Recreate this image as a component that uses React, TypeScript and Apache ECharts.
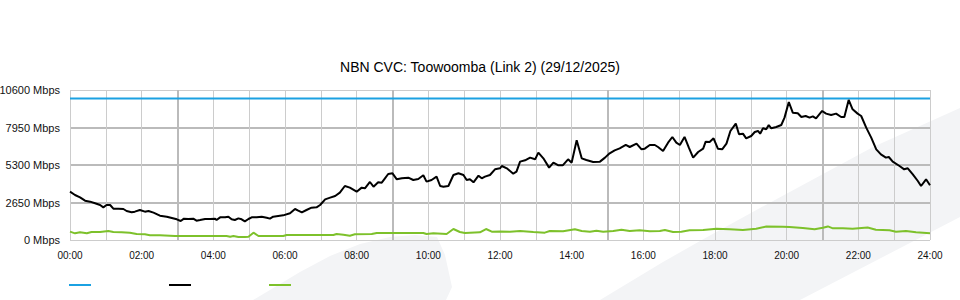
import React, { useEffect, useRef } from "react";
import * as echarts from "echarts";

const TITLE = "NBN CVC: Toowoomba (Link 2) (29/12/2025)";
const Y_TICKS = [0, 2650, 5300, 7950, 10600];

const capacityTimes = [0, 24];
const capacityValues = [10000, 10000];

const trafficTimes = [
  0.0, 0.14, 0.28, 0.42, 0.56, 0.7, 0.84, 0.93, 1.02, 1.12, 1.21, 1.35, 1.49, 1.58, 1.72, 1.81, 1.95, 2.09, 2.19, 2.33,
  2.51, 2.7, 2.84, 2.98, 3.09, 3.18, 3.3, 3.44, 3.53, 3.63, 3.77, 3.91, 4.05, 4.09, 4.19, 4.33, 4.42, 4.51, 4.6, 4.7,
  4.79, 4.88, 4.98, 5.07, 5.21, 5.35, 5.49, 5.58, 5.67, 5.81, 5.95, 6.14, 6.28, 6.37, 6.47, 6.6, 6.74, 6.88, 6.98, 7.12,
  7.26, 7.4, 7.53, 7.67, 7.81, 8.0, 8.14, 8.23, 8.37, 8.47, 8.6, 8.7, 8.79, 8.88, 9.0, 9.12, 9.26, 9.44, 9.58, 9.72,
  9.86, 9.95, 10.09, 10.23, 10.33, 10.42, 10.56, 10.7, 10.84, 10.98, 11.07, 11.16, 11.26, 11.4, 11.49, 11.58, 11.72, 11.86, 12.0,
  12.05, 12.19, 12.37, 12.46, 12.56, 12.7, 12.84, 12.98, 13.07, 13.21, 13.37, 13.49, 13.63, 13.75, 13.9, 14.0, 14.14, 14.28,
  14.41, 14.6, 14.79, 14.93, 15.06, 15.2, 15.34, 15.51, 15.62, 15.81, 15.95, 16.04, 16.18, 16.32, 16.41, 16.55, 16.69, 16.81,
  16.92, 17.02, 17.15, 17.27, 17.39, 17.53, 17.67, 17.74, 17.85, 17.96, 18.08, 18.2, 18.32, 18.43, 18.58, 18.67, 18.78, 18.87,
  19.01, 19.11, 19.2, 19.26, 19.34, 19.43, 19.5, 19.57, 19.71, 19.85, 19.94, 20.06, 20.17, 20.31, 20.41, 20.53, 20.64, 20.73,
  20.82, 20.99, 21.1, 21.24, 21.38, 21.52, 21.61, 21.73, 21.84, 21.98, 22.08, 22.22, 22.36, 22.5, 22.63, 22.77, 22.85, 22.96,
  23.15, 23.28, 23.38, 23.52, 23.66, 23.75, 23.89, 24.0,
];
const trafficValues = [
  3416, 3180, 3016, 2780, 2709, 2592, 2474, 2309, 2474, 2474, 2215, 2215, 2190, 2050, 1955, 2003, 2120, 2003, 2050, 1932,
  1720, 1649, 1555, 1461, 1343, 1508, 1484, 1508, 1366, 1414, 1484, 1484, 1508, 1414, 1602, 1602, 1649, 1461, 1414, 1531,
  1461, 1319, 1484, 1602, 1602, 1649, 1578, 1508, 1649, 1696, 1743, 1885, 2191, 2073, 1955, 2120, 2285, 2309, 2474, 2874,
  2992, 3110, 3345, 3817, 3699, 3416, 3699, 3652, 4099, 3770, 4076, 4052, 4359, 4665, 4712, 4288, 4359, 4406, 4241, 4311,
  4571, 4123, 4241, 4476, 3817, 3770, 3817, 4594, 4712, 4594, 4241, 4288, 4076, 4547, 4359, 4476, 4594, 4995, 5065,
  5230, 5065, 4688, 4830, 5537, 5631, 5820, 5702, 6173, 5772, 5113, 5466, 5277, 5277, 5702, 5466, 7044, 5772,
  5654, 5513, 5537, 5820, 6126, 6338, 6479, 6715, 6573, 6809, 6408, 6455, 6715, 6715, 6573, 6290, 6880, 7280,
  6880, 6715, 7280, 6526, 5820, 6220, 6455, 6950, 6927, 7186, 6455, 6408, 6809, 7704, 8222, 7468, 7515, 7186,
  7351, 7634, 7704, 7515, 7893, 7822, 8128, 7893, 7987, 8128, 8647, 9754, 9000, 8953, 8694, 8764, 8647, 8741,
  8600, 9118, 8930, 8835, 8930, 8694, 8694, 9895, 9235, 8930, 8764, 7940, 7233, 6408, 6055, 5820, 5866, 5537,
  5230, 4995, 5065, 4641, 4170, 3817, 4288, 3864,
];

const uploadTimes = [
  0.0, 0.14, 0.28, 0.47, 0.6, 0.84, 1.07, 1.21, 1.44, 1.67, 1.86, 2.09, 2.23, 2.51, 2.79, 2.93, 4.37, 4.47, 4.56, 4.7,
  4.88, 4.98, 5.12, 5.26, 5.95, 6.05, 7.35, 7.44, 7.63, 7.81, 7.95, 8.42, 8.56, 9.86, 9.95, 10.14, 10.51, 10.7, 10.88, 11.02,
  11.44, 11.61, 11.77, 12.0, 12.28, 12.56, 12.93, 13.25, 13.39, 13.76, 14.09, 14.28, 14.51, 14.69, 14.88, 15.16, 15.39, 15.62,
  15.9, 16.18, 16.46, 16.6, 16.83, 17.06, 17.29, 17.67, 18.04, 18.41, 18.78, 19.15, 19.43, 19.89, 20.08, 20.45, 20.78, 21.01,
  21.15, 21.29, 21.57, 21.84, 22.26, 22.49, 22.87, 23.05, 23.33, 23.61, 24.0,
];
const uploadValues = [
  589, 471, 542, 471, 565, 565, 636, 565, 542, 518, 424, 400, 330, 330, 306, 283, 283, 236, 283, 212,
  212, 236, 518, 283, 283, 353, 353, 424, 377, 306, 400, 424, 495, 495, 424, 471, 424, 777, 565, 495,
  542, 777, 589, 600, 589, 636, 565, 518, 636, 612, 754, 636, 589, 659, 589, 636, 730, 636,
  683, 612, 636, 707, 565, 589, 683, 707, 801, 754, 707, 801, 954, 930, 919, 848, 754, 872,
  960, 825, 825, 801, 880, 730, 683, 589, 636, 542, 471,
];

const zip = (t: number[], v: number[]) => t.map((x, i) => [x, v[i]]);
const pad = (n: number) => (n < 10 ? "0" + n : "" + n);

const LIGHT = "#cccccc";
const DARK = "#bbbbbb";
const NONE = "rgba(0,0,0,0)";
const FONT = "Liberation Sans, Arial, sans-serif";

export default function App() {
  const ref = useRef<HTMLDivElement>(null);
  useEffect(() => {
    if (!ref.current) return;
    const chart = echarts.init(ref.current, undefined, { renderer: "svg" });
    const wm = "#f3f4f6";
    const legendBase = {
      top: 284,
      itemWidth: 22,
      itemHeight: 2,
      icon: "rect",
      padding: 0,
      formatter: () => "",
      textStyle: { fontSize: 2 },
      selectedMode: false,
    };
    chart.setOption({
      animation: false,
      backgroundColor: "#ffffff",
      title: {
        text: TITLE,
        left: "center",
        top: 60,
        padding: 0,
        textStyle: { fontSize: 14, fontWeight: "normal", color: "#000", fontFamily: FONT },
      },
      graphic: [
        {
          type: "polygon",
          z: -10,
          silent: true,
          shape: {
            points: [
              [253, 300], [275, 287], [300, 272], [330, 256], [360, 244], [390, 237], [415, 235], [437, 237],
              [445, 255], [452, 287], [446, 300],
            ],
          },
          style: { fill: wm },
        },
        {
          type: "polygon",
          z: -10,
          silent: true,
          shape: {
            points: [
              [600, 300], [663, 262], [700, 241], [760, 208], [873, 147], [960, 108], [960, 217], [800, 300],
            ],
          },
          style: { fill: wm },
        },
      ],
      legend: [
        { ...legendBase, left: 69, data: ["Capacity"] },
        { ...legendBase, left: 169, data: ["Download"] },
        { ...legendBase, left: 269, data: ["Upload"] },
      ],
      grid: {
        left: 70,
        right: 30,
        top: 90,
        bottom: 60,
        show: false,
        containLabel: false,
        outerBoundsMode: "none",
        outerBounds: { left: -50, right: -50, top: -50, bottom: -50 },
      },
      xAxis: [
        {
          type: "value",
          min: 0,
          max: 24,
          interval: 1,
          axisLine: { show: false },
          axisTick: { show: false },
          axisLabel: {
            margin: 10,
            fontSize: 10,
            color: "#111",
            fontFamily: FONT,
            formatter: (v: number) => (v % 2 === 0 ? pad(v) + ":00" : ""),
          },
          splitLine: { show: true, lineStyle: { color: [LIGHT, LIGHT, LIGHT, NONE, LIGHT, LIGHT], width: 1 } },
        },
        {
          type: "value",
          min: 0,
          max: 24,
          interval: 3,
          position: "bottom",
          axisLine: { show: false },
          axisTick: { show: false },
          axisLabel: { show: false },
          splitLine: { show: true, lineStyle: { color: [NONE, DARK], width: 2 } },
        },
      ],
      yAxis: [
        {
          type: "value",
          min: 0,
          max: 10600,
          interval: 2650,
          axisLine: { show: false },
          axisTick: { show: false },
          axisLabel: {
            margin: 10,
            fontSize: 11,
            color: "#111",
            fontFamily: FONT,
            overflow: "none",
            padding: [0, 0, 4, 0],
            formatter: (v: number) => (Y_TICKS.includes(v) ? v + " Mbps" : ""),
          },
          splitLine: { show: true, lineStyle: { color: [LIGHT, NONE, NONE, NONE, LIGHT], width: 1 } },
        },
        {
          type: "value",
          min: 0,
          max: 10600,
          interval: 2650,
          position: "left",
          axisLine: { show: false },
          axisTick: { show: false },
          axisLabel: { show: false },
          splitLine: { show: true, lineStyle: { color: [NONE, DARK, DARK, DARK, NONE], width: 2 } },
        },
      ],
      series: [
        {
          name: "Capacity",
          type: "line",
          data: zip(capacityTimes, capacityValues),
          showSymbol: false,
          symbol: "none",
          lineStyle: { color: "#1ba1e2", width: 2 },
          itemStyle: { color: "#1ba1e2" },
          z: 3,
        },
        {
          name: "Download",
          type: "line",
          data: zip(trafficTimes, trafficValues),
          showSymbol: false,
          symbol: "none",
          lineStyle: { color: "#000000", width: 2 },
          itemStyle: { color: "#000000" },
          z: 4,
        },
        {
          name: "Upload",
          type: "line",
          data: zip(uploadTimes, uploadValues),
          showSymbol: false,
          symbol: "none",
          lineStyle: { color: "#7dc12b", width: 2 },
          itemStyle: { color: "#7dc12b" },
          z: 3,
        },
      ],
    });
    return () => chart.dispose();
  }, []);
  return <div ref={ref} style={{ position: "absolute", left: 0, top: 0, width: 960, height: 300 }} />;
}
